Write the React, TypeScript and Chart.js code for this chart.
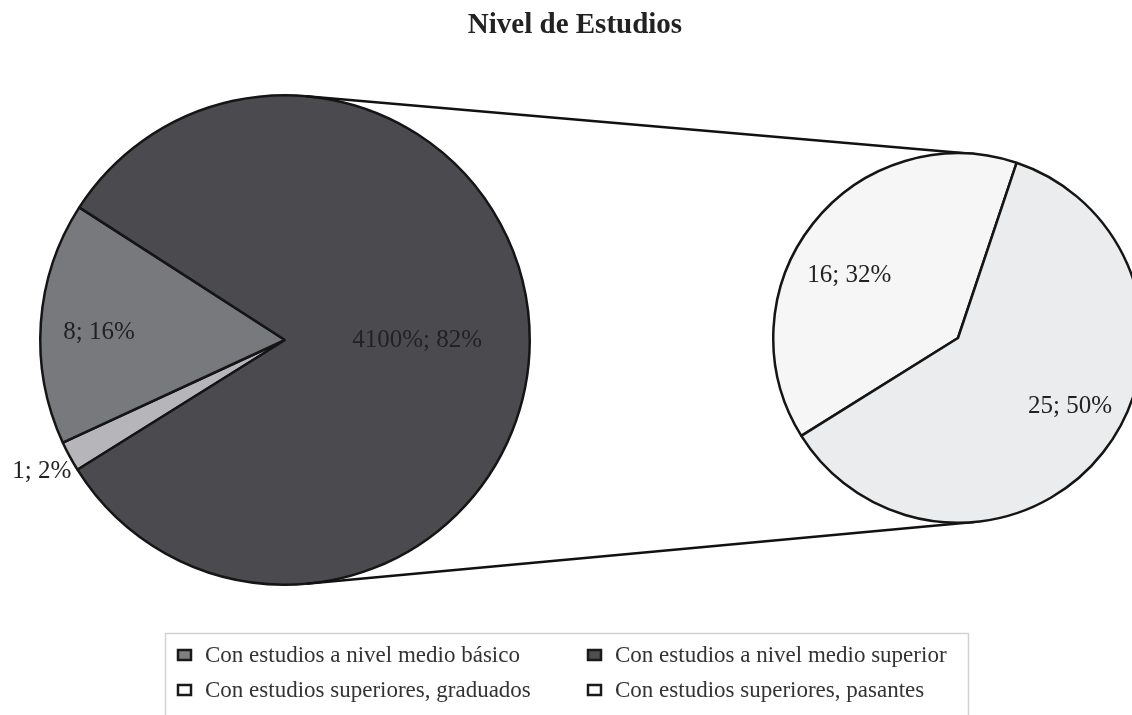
import React, { useEffect, useRef } from "react";
import { Chart, registerables } from "chart.js";

Chart.register(...registerables);

// ---- data ----
const chartTitle = "Nivel de Estudios";
const mainValues = [1, 8, 41];
const mainLabels = ["1; 2%", "8; 16%", "4100%; 82%"];
const mainColors = ["#b6b6ba", "#78797c", "#4b4a4f"];
const subValues = [16, 25];
const subLabels = ["16; 32%", "25; 50%"];
const subColors = ["#f6f6f6", "#ebeced"];
const legendLabels = [
  "Con estudios a nivel medio básico",
  "Con estudios a nivel medio superior",
  "Con estudios superiores, graduados",
  "Con estudios superiores, pasantes",
];
const legendColors = ["#808083", "#4f4f53", "#ffffff", "#ffffff"];

// ---- layout / style ----
const W = 1132;
const H = 715;
const SUB_LEFT = 768;
const SUB_TOP = 148;
const SUB_SIZE = 380;
const SERIF = "'Liberation Serif', 'Times New Roman', serif";
const mainPlacement = [
  { f: 1.13, da: 0 },
  { f: 0.76, da: -1.8 },
  { f: 0.54, da: 0 },
];
const subPlacement = [
  { f: 0.68, da: -8.25 },
  { f: 0.71, da: -6.85 },
];

function makeLabelPlugin(id: string, texts: string[], placement: { f: number; da: number }[]) {
  return {
    id,
    afterDatasetsDraw(chart: any) {
      const ctx = chart.ctx;
      const meta = chart.getDatasetMeta(0);
      ctx.save();
      ctx.font = `25px ${SERIF}`;
      ctx.fillStyle = "#222";
      ctx.textAlign = "center";
      ctx.textBaseline = "middle";
      meta.data.forEach((arc: any, i: number) => {
        const p = arc.getProps(["x", "y", "startAngle", "endAngle", "outerRadius"], true);
        const pl = placement[i];
        const a = (p.startAngle + p.endAngle) / 2 + (pl.da * Math.PI) / 180;
        const r = p.outerRadius * pl.f;
        ctx.fillText(texts[i], p.x + r * Math.cos(a), p.y + r * Math.sin(a));
      });
      ctx.restore();
    },
  };
}

export default function App() {
  const mainRef = useRef<HTMLCanvasElement | null>(null);
  const subRef = useRef<HTMLCanvasElement | null>(null);

  useEffect(() => {
    document.body.style.margin = "0";
    if (!mainRef.current || !subRef.current) return;

    const subChart = new Chart(subRef.current, {
      type: "pie",
      data: {
        labels: subLabels,
        datasets: [
          {
            data: subValues,
            backgroundColor: subColors,
            borderColor: "#151515",
            borderWidth: 2.5,
          },
        ],
      },
      options: {
        responsive: false,
        animation: false,
        events: [],
        rotation: 238,
        layout: { padding: 4 },
        plugins: { legend: { display: false }, tooltip: { enabled: false }, title: { display: false } },
      },
      plugins: [makeLabelPlugin("subLabels", subLabels, subPlacement)],
    });

    const connectorPlugin = {
      id: "connectors",
      afterDatasetsDraw(chart: any) {
        const ctx = chart.ctx;
        const m = chart.getDatasetMeta(0).data[0].getProps(["x", "y", "outerRadius"], true);
        const s = subChart.getDatasetMeta(0).data[0] as any;
        const sp = s.getProps(["x", "y", "outerRadius"], true);
        const r1 = chart.canvas.getBoundingClientRect();
        const r2 = subChart.canvas.getBoundingClientRect();
        const ox = r2.left - r1.left;
        const oy = r2.top - r1.top;
        ctx.save();
        ctx.strokeStyle = "#111";
        ctx.lineWidth = 2.5;
        [-85, 85].forEach((deg) => {
          const a = (deg * Math.PI) / 180;
          ctx.beginPath();
          ctx.moveTo(m.x + m.outerRadius * Math.cos(a), m.y + m.outerRadius * Math.sin(a));
          ctx.lineTo(ox + sp.x + sp.outerRadius * Math.cos(a), oy + sp.y + sp.outerRadius * Math.sin(a));
          ctx.stroke();
        });
        ctx.restore();
      },
    };

    const titleLegendPlugin = {
      id: "titleLegend",
      afterDraw(chart: any) {
        const ctx = chart.ctx;
        ctx.save();
        ctx.fillStyle = "#222";
        ctx.font = `bold 29px ${SERIF}`;
        ctx.textAlign = "center";
        ctx.textBaseline = "middle";
        ctx.fillText(chartTitle, 575, 26);

        ctx.strokeStyle = "#d2d2d2";
        ctx.lineWidth = 1.5;
        ctx.strokeRect(165.5, 633.5, 803, 100);
        const cols = [178, 588];
        const rows = [655, 690];
        ctx.font = `23px ${SERIF}`;
        ctx.textAlign = "left";
        legendLabels.forEach((lab, i) => {
          const x = cols[i % 2];
          const y = rows[Math.floor(i / 2)];
          ctx.fillStyle = legendColors[i];
          ctx.fillRect(x, y - 5, 13, 10);
          ctx.strokeStyle = "#1a1a1a";
          ctx.lineWidth = 2.5;
          ctx.strokeRect(x, y - 5, 13, 10);
          ctx.fillStyle = "#333";
          ctx.fillText(lab, x + 27, y + 1);
        });
        ctx.restore();
      },
    };

    const mainChart = new Chart(mainRef.current, {
      type: "pie",
      data: {
        labels: mainLabels,
        datasets: [
          {
            data: mainValues,
            backgroundColor: mainColors,
            borderColor: "#151515",
            borderWidth: 2.5,
          },
        ],
      },
      options: {
        responsive: false,
        animation: false,
        events: [],
        rotation: 238,
        layout: { padding: { left: 39, right: 601, top: 94, bottom: 129 } },
        plugins: {
          legend: { display: false },
          tooltip: { enabled: false },
          title: { display: false },
        },
      },
      plugins: [connectorPlugin, makeLabelPlugin("mainLabels", mainLabels, mainPlacement), titleLegendPlugin],
    });

    return () => {
      mainChart.destroy();
      subChart.destroy();
    };
  }, []);

  return (
    <div style={{ position: "relative", width: W, height: H, overflow: "hidden", background: "#fff" }}>
      <canvas ref={mainRef} width={W} height={H} style={{ position: "absolute", left: 0, top: 0 }} />
      <canvas
        ref={subRef}
        width={SUB_SIZE}
        height={SUB_SIZE}
        style={{ position: "absolute", left: SUB_LEFT, top: SUB_TOP }}
      />
    </div>
  );
}
